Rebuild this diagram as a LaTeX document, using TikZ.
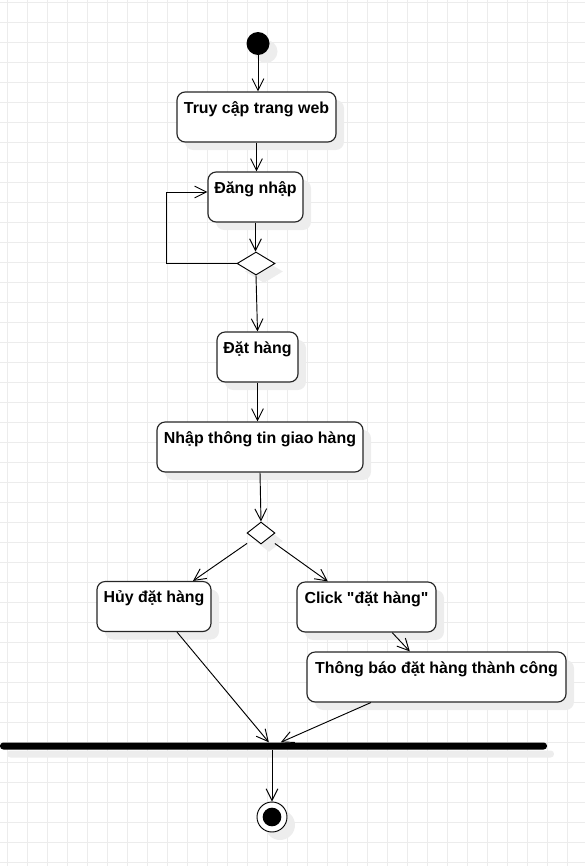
\documentclass[tikz,border=0pt]{standalone}
\usepackage{fontspec}
\setmainfont{Liberation Sans}[Ligatures=TeXOff]
\usetikzlibrary{shapes.geometric,arrows.meta,shadows}

\begin{document}
\begin{tikzpicture}[
  x=0.03cm, y=-0.03cm,
  soft shadow/.style={drop shadow={shadow xshift=0.24cm, shadow yshift=-0.24cm, fill=black!7, opacity=1}},
  action/.style={draw=black!85, line width=1pt, rounded corners=7pt, fill=white, soft shadow, inner xsep=2pt, inner ysep=0.33cm, text height=0.3cm, text depth=0.54cm, font=\fontsize{13.6}{16}\selectfont\bfseries},
  choice/.style={diamond, draw, line width=0.8pt, fill=white, inner sep=0pt, soft shadow},
  final/.style={circle, draw, line width=0.8pt, fill=white, minimum size=0.9cm, inner sep=0pt, soft shadow, path picture={\fill[black] (path picture bounding box.center) circle (0.28cm);}},
  arrow/.style={-{Straight Barb[length=10pt,width=10pt]}, line width=0.8pt},
  grid line/.style={gray!15, line width=0.8pt}
]
\useasboundingbox (0,0) rectangle (585,866);
\foreach \gx in {7,27,...,587} \draw[grid line] (\gx,0) -- (\gx,866);
\foreach \gy in {2,22,...,862} \draw[grid line] (0,\gy) -- (585,\gy);

\node[circle, fill, minimum size=0.69cm, soft shadow] (start) at (258,43.5) {};
\node[action, minimum width=4.77cm] (web) at (256.5,117) {Truy cập trang web};
\node[action, minimum width=2.85cm] (login) at (255.5,197) {Đăng nhập};
\node[choice, minimum width=1.14cm, minimum height=0.69cm] (check) at (256,263.5) {};
\node[action, minimum width=2.43cm] (order) at (257.5,357) {Đặt hàng};
\node[action, minimum width=6.18cm] (ship) at (260,447) {Nhập thông tin giao hàng};
\node[choice, minimum width=0.84cm, minimum height=0.66cm] (confirm) at (261,533) {};
\node[action, minimum width=3.42cm] (cancel) at (154,606.5) {Hủy đặt hàng};
\node[action, minimum width=4.17cm] (click) at (366.5,607) {Click "đặt hàng"};
\node[action, minimum width=7.77cm] (notify) at (436.5,677) {Thông báo đặt hàng thành công};
\node[fill, rounded corners=0.1cm, minimum width=16.41cm, minimum height=0.21cm, inner sep=0pt, drop shadow={shadow xshift=0.21cm, shadow yshift=-0.24cm, fill=black!7, opacity=1}] (join) at (273.5,746) {};
\node[final] (stop) at (272,817) {};

\draw[arrow] (start) -- (start |- web.north);
\draw[arrow] (web.south) -- (web.south |- login.north);
\draw[arrow] (login.south) -- (login.south |- check.north);
\draw[arrow] (check.west) -- ++(-70,0) |- ([yshift=0.15cm]login.west);
\draw[arrow] (check.south) -- (order.north);
\draw[arrow] (order.south) -- (order.south |- ship.north);
\draw[arrow] (ship.south) -- (confirm.north);
\draw[arrow, shorten <=7pt] (confirm.south west) -- ([xshift=1.17cm]cancel.north);
\draw[arrow, shorten <=7pt] (confirm.south east) -- ([xshift=-1.16cm]click.north);
\draw[arrow] ([xshift=0.77cm]click.south) -- ([xshift=-0.8cm]notify.north);
\draw[arrow] ([xshift=0.69cm]cancel.south) -- ([xshift=-0.14cm]join.north);
\draw[arrow] ([xshift=-1.97cm]notify.south) -- ([xshift=0.22cm]join.north);
\draw[arrow] (join.south -| stop) -- (stop);
\end{tikzpicture}
\end{document}
